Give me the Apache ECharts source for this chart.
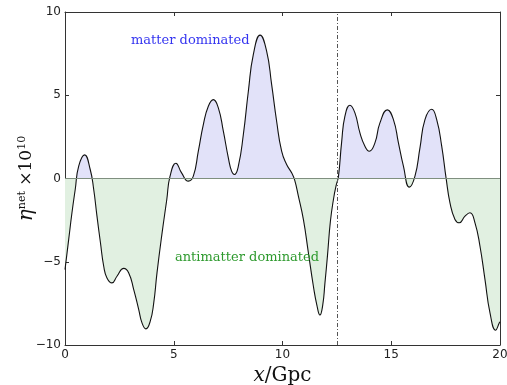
<!DOCTYPE html>
<html><head><meta charset="utf-8">
<script src="https://cdn.jsdelivr.net/npm/echarts@6/dist/echarts.min.js"></script>
<style>html,body{margin:0;padding:0;background:#fff}#c{width:507px;height:385px}</style>
</head><body><div id="c"></div>
<script>
// x positions (Gpc) and eta_net (x1e-10)
const xs = [0.00,0.17,0.32,0.47,0.63,0.90,1.16,1.32,1.47,1.63,1.78,1.93,2.16,2.39,2.70,2.93,3.16,3.39,3.54,3.72,3.92,4.08,4.23,4.45,4.68,4.83,5.10,5.36,5.67,5.90,6.13,6.36,6.59,6.82,7.05,7.28,7.51,7.66,7.79,7.97,8.20,8.43,8.66,8.97,9.27,9.50,9.73,9.96,10.19,10.42,10.56,10.73,10.96,11.19,11.42,11.58,11.72,11.85,11.95,12.07,12.20,12.35,12.47,12.57,12.72,12.87,13.10,13.33,13.56,13.79,13.99,14.25,14.48,14.82,15.10,15.33,15.56,15.83,16.09,16.32,16.55,16.86,17.09,17.32,17.52,17.70,17.93,18.13,18.39,18.62,18.85,19.08,19.31,19.54,19.80,19.97,20.00];
const eta = [-5.47,-3.66,-2.06,-0.66,0.74,1.42,0.54,-0.66,-2.26,-3.86,-5.27,-5.97,-6.27,-5.87,-5.40,-5.67,-6.67,-7.87,-8.67,-9.03,-8.57,-7.47,-5.67,-3.40,-1.26,0.14,0.92,0.34,-0.16,0.14,1.64,3.24,4.34,4.74,4.24,2.84,1.24,0.44,0.24,0.74,2.64,5.24,7.45,8.61,7.65,5.65,3.44,1.64,0.84,0.34,-0.10,-1.06,-2.46,-4.46,-6.47,-7.60,-8.20,-7.60,-6.30,-4.60,-2.60,-1.20,-0.40,0.10,2.20,3.74,4.40,3.94,2.74,1.94,1.64,2.14,3.34,4.12,3.54,2.14,0.74,-0.52,0.14,1.84,3.54,4.16,3.54,1.94,0.04,-1.46,-2.46,-2.66,-2.26,-2.06,-2.66,-4.07,-6.07,-8.07,-9.11,-8.67,-8.60];
const xTicks = [0,5,10,15,20];
const yTicks = [-10,-5,0,5,10];
const dividerX = 12.5;
const labelMatter = 'matter dominated';
const labelAnti = 'antimatter dominated';

const BLUE_FILL = '#e2e2f9', GREEN_FILL = '#e1f0e1';
const pts = xs.map((x,i)=>[x,eta[i]]);
const fmt = v => String(v).replace('-', '\u2212');
const chart = echarts.init(document.getElementById('c'));
const tickStyle = {show:true, inside:true, length:4, lineStyle:{color:'#333', width:1}};
const axLine = {show:true, onZero:false, lineStyle:{color:'#333', width:1}};
chart.setOption({
  animation:false,
  grid:{left:65, right:7, top:12, bottom:40, containLabel:false, outerBoundsMode:'none'},
  xAxis:[{type:'value', min:xTicks[0], max:xTicks[xTicks.length-1], interval:5,
    axisLine:axLine, axisTick:tickStyle, splitLine:{show:false},
    axisLabel:{formatter:fmt, fontFamily:'DejaVu Sans', fontSize:12, color:'#222', margin:4},
    name:'{i|x}{n|/Gpc}', nameLocation:'middle', nameGap:20,
    nameTextStyle:{rich:{i:{fontFamily:'DejaVu Serif', fontStyle:'italic', fontSize:20, color:'#111'}, n:{fontFamily:'DejaVu Serif', fontSize:20, color:'#111'}}}},
    {type:'value', position:'top', min:0, max:20, interval:5, axisLine:axLine, axisTick:tickStyle, axisLabel:{show:false}, splitLine:{show:false}}],
  yAxis:[{type:'value', min:yTicks[0], max:yTicks[yTicks.length-1], interval:5,
    axisLine:axLine, axisTick:tickStyle, splitLine:{show:false},
    axisLabel:{formatter:fmt, fontFamily:'DejaVu Sans', fontSize:12, color:'#222', margin:4},
    name:'{e|\u03b7}{s|net}{t| \u00d710}{s|10}', nameLocation:'middle', nameGap:28, nameRotate:90, nameMoveOverlap:false,
    nameTextStyle:{rich:{e:{fontFamily:'DejaVu Serif', fontStyle:'italic', fontSize:20, color:'#111'}, s:{fontFamily:'DejaVu Serif', fontSize:11, color:'#111', verticalAlign:'top', padding:[0,0,9,0]}, t:{fontFamily:'DejaVu Serif', fontSize:17, color:'#111'}}}},
    {type:'value', position:'right', min:-10, max:10, interval:5, axisLine:axLine, axisTick:tickStyle, axisLabel:{show:false}, splitLine:{show:false}}],
  series:[
    {type:'line', data:pts, smooth:0.5, showSymbol:false, symbol:'none', z:1,
     lineStyle:{width:0, opacity:0}, areaStyle:{opacity:1, origin:0, color:BLUE_FILL}},
    {type:'line', data:pts, smooth:0.5, showSymbol:false, symbol:'none', z:3,
     lineStyle:{color:'#111', width:1.1},
     markLine:{silent:true, symbol:'none', label:{show:false},
       data:[{yAxis:0, lineStyle:{color:'#7f8f7f', width:1.2, type:'solid'}},
             {xAxis:dividerX, lineStyle:{color:'#555', width:1, type:[4,2,1,2]}}]}}
  ],
  graphic:[
    {type:'text', z:100, left:131, top:34, style:{text:labelMatter, fontFamily:'DejaVu Serif', fontSize:13, fill:'#3535f0'}},
    {type:'text', z:100, left:175, top:251, style:{text:labelAnti, fontFamily:'DejaVu Serif', fontSize:13, fill:'#2e9a2e'}}
  ]
});
const y0 = chart.convertToPixel({yAxisIndex:0}, 0);
const H = 385, f = y0 / H;
chart.setOption({series:[{areaStyle:{opacity:1, origin:0, color:new echarts.graphic.LinearGradient(0,0,0,H,[
  {offset:0, color:BLUE_FILL},{offset:f, color:BLUE_FILL},{offset:f, color:GREEN_FILL},{offset:1, color:GREEN_FILL}], true)}}, {}]});
</script></body></html>
